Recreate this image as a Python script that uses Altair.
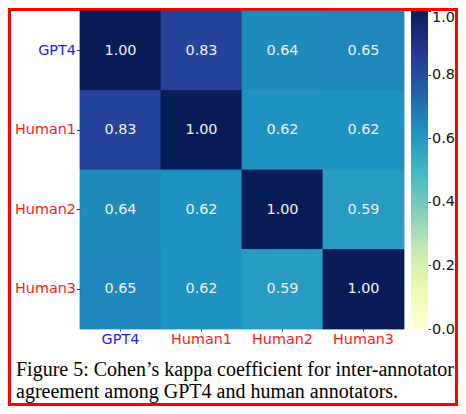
import altair as alt
import pandas as pd

annotators = ["GPT4", "Human1", "Human2", "Human3"]
kappa = [
    [1.00, 0.83, 0.64, 0.65],
    [0.83, 1.00, 0.62, 0.62],
    [0.64, 0.62, 1.00, 0.59],
    [0.65, 0.62, 0.59, 1.00],
]
ylgnbu = ["#ffffd9", "#edf8b1", "#c7e9b4", "#7fcdbb", "#41b6c4",
          "#1d91c0", "#225ea8", "#253494", "#081d58"]
cbar_ticks = [0.0, 0.2, 0.4, 0.6, 0.8, 1.0]
caption_lines = [
    "Figure 5: Cohen\u2019s kappa coefficient for inter-annotator",
    "agreement among GPT4 and human annotators.",
]

rows = []
for i, r in enumerate(annotators):
    for j, c in enumerate(annotators):
        rows.append({"row": r, "col": c, "kappa": kappa[i][j]})
df = pd.DataFrame(rows)

W, H = 324, 318
FONT = "DejaVu Sans"
FS = 14.4

label_color = alt.condition("datum.value == 'GPT4'", alt.value("#1a1aff"), alt.value("#ff1a1a"))

xenc = alt.X("col:N", sort=annotators, title=None,
             scale=alt.Scale(paddingInner=0, paddingOuter=0),
             axis=alt.Axis(orient="bottom", labelAngle=0, domain=False, tickSize=2,
                           labelPadding=1, labelFont=FONT, labelFontSize=FS,
                           labelColor=label_color, tickColor="#333"))
yenc = alt.Y("row:N", sort=annotators, title=None,
             scale=alt.Scale(paddingInner=0, paddingOuter=0),
             axis=alt.Axis(orient="left", domain=False, tickSize=3.5, labelPadding=1,
                           labelFont=FONT, labelFontSize=FS,
                           labelColor=label_color, tickColor="#333"))

cscale = alt.Scale(domain=[i / 8 for i in range(9)], range=ylgnbu, interpolate="rgb")
heat = alt.Chart(df).mark_rect(strokeWidth=0.8).encode(
    x=xenc, y=yenc,
    color=alt.Color("kappa:Q", legend=None, scale=cscale),
    stroke=alt.Stroke("kappa:Q", legend=None, scale=cscale),
)
txt = alt.Chart(df).mark_text(font=FONT, fontSize=FS, color="#f2f2f2").encode(
    x=xenc, y=yenc, text=alt.Text("kappa:Q", format=".2f"),
)
heatmap = alt.layer(heat, txt)

grad = alt.LinearGradient(
    gradient="linear",
    stops=[alt.GradientStop(offset=i / 8, color=c) for i, c in enumerate(ylgnbu)],
    x1=0, y1=1, x2=0, y2=0,
)
cbar = alt.Chart(pd.DataFrame({"lo": [0.0], "hi": [1.0]})).mark_rect(fill=grad, strokeWidth=0).encode(
    y=alt.Y("lo:Q", title=None,
            scale=alt.Scale(domain=[0, 1], nice=False, zero=False),
            axis=alt.Axis(orient="right", offset=24, values=cbar_ticks, format=".1f",
                          domain=False, grid=False, tickSize=2.5, labelPadding=1, zindex=1,
                          labelOffset=alt.condition("datum.value >= 0.99", alt.value(6), alt.value(0)),
                          labelFont=FONT, labelFontSize=FS, labelColor="#111", tickColor="#333")),
    y2="hi:Q",
    x=alt.value(W + 7), x2=alt.value(W + 24),
)

frame = alt.Chart(pd.DataFrame({"k": [0]})).mark_rect(
    fillOpacity=0, stroke="red", strokeWidth=3
).encode(x=alt.value(-70.5), x2=alt.value(376.5), y=alt.value(-1.5), y2=alt.value(393.5))

caption = alt.Chart(pd.DataFrame({"caption": ["\n".join(caption_lines)]})).mark_text(
    align="left", baseline="alphabetic", font="Liberation Serif", fontSize=20,
    color="black", lineBreak="\n", lineHeight=22,
).encode(text="caption:N", x=alt.value(-64), y=alt.value(365))

chart = alt.layer(frame, heatmap, cbar, caption).resolve_scale(
    y="independent"
).resolve_axis(y="independent").properties(
    width=W, height=H,
    autosize=alt.AutoSizeParams(type="none"),
    padding={"left": 72, "top": 3, "right": 450 - 72 - W, "bottom": 398 - 3 - H},
).configure_view(stroke=None)

chart.save("out.html", embed_options={"renderer": "svg", "actions": False})
